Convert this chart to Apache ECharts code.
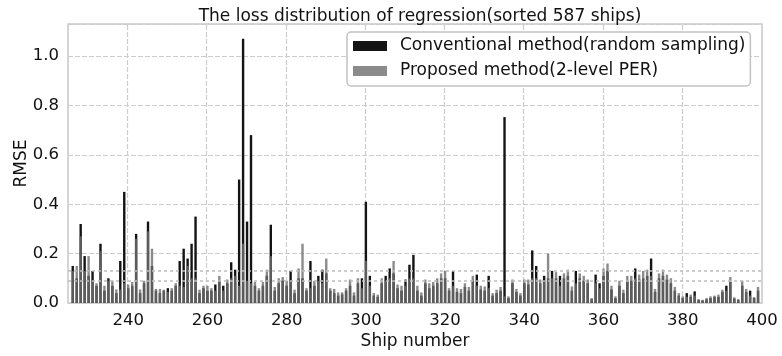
<!DOCTYPE html>
<html>
<head>
<meta charset="utf-8">
<script src="https://cdn.jsdelivr.net/npm/echarts@6/dist/echarts.min.js"></script>
<style>
  html, body { margin: 0; padding: 0; background: #fff; }
  #chart { width: 782px; height: 356px; }
</style>
</head>
<body>
<div id="chart"></div>
<script>
// Per-ship RMSE, ships 226..399 (sorted order)
const firstShip = 226;
const conventional = [
  0.15, 0.10, 0.32, 0.19, 0.11, 0.13, 0.07, 0.24, 0.05, 0.10,
  0.07, 0.04, 0.17, 0.45, 0.06, 0.07, 0.28, 0.04, 0.08, 0.33,
  0.15, 0.05, 0.04, 0.05, 0.06, 0.05, 0.07, 0.17, 0.22, 0.18,
  0.24, 0.35, 0.04, 0.06, 0.05, 0.05, 0.075, 0.09, 0.07, 0.08,
  0.165, 0.135, 0.50, 1.07, 0.33, 0.68, 0.07, 0.05, 0.07, 0.11,
  0.317, 0.05, 0.08, 0.09, 0.07, 0.13, 0.04, 0.10, 0.10, 0.05,
  0.17, 0.07, 0.11, 0.135, 0.12, 0.05, 0.04, 0.03, 0.035, 0.05,
  0.07, 0.03, 0.08, 0.10, 0.41, 0.11, 0.03, 0.025, 0.08, 0.11,
  0.14, 0.12, 0.06, 0.05, 0.095, 0.155, 0.195, 0.05, 0.03, 0.08,
  0.06, 0.07, 0.08, 0.10, 0.10, 0.05, 0.13, 0.045, 0.04, 0.065,
  0.05, 0.09, 0.115, 0.055, 0.05, 0.11, 0.03, 0.04, 0.05, 0.753,
  0.02, 0.08, 0.045, 0.03, 0.08, 0.075, 0.213, 0.15, 0.08, 0.11,
  0.10, 0.13, 0.10, 0.11, 0.10, 0.11, 0.05, 0.13, 0.10, 0.09,
  0.08, 0.015, 0.115, 0.08, 0.11, 0.13, 0.055, 0.02, 0.07, 0.04,
  0.09, 0.09, 0.14, 0.095, 0.10, 0.11, 0.18, 0.045, 0.10, 0.11,
  0.095, 0.08, 0.05, 0.03, 0.02, 0.04, 0.025, 0.047, 0.012, 0.01,
  0.015, 0.02, 0.025, 0.025, 0.045, 0.07, 0.085, 0.018, 0.012, 0.07,
  0.045, 0.05, 0.02, 0.05
];
const proposed = [
  0.13, 0.15, 0.27, 0.13, 0.19, 0.09, 0.08, 0.21, 0.07, 0.09,
  0.09, 0.055, 0.055, 0.08, 0.075, 0.085, 0.26, 0.055, 0.09, 0.29,
  0.22, 0.057, 0.057, 0.054, 0.045, 0.06, 0.08, 0.07, 0.065, 0.15,
  0.10, 0.10, 0.054, 0.07, 0.07, 0.06, 0.05, 0.11, 0.05, 0.095,
  0.10, 0.11, 0.07, 0.24, 0.09, 0.08, 0.085, 0.06, 0.085, 0.135,
  0.19, 0.065, 0.10, 0.105, 0.09, 0.09, 0.054, 0.14, 0.24, 0.06,
  0.06, 0.09, 0.09, 0.08, 0.18, 0.06, 0.057, 0.043, 0.043, 0.06,
  0.095, 0.043, 0.10, 0.06, 0.17, 0.07, 0.04, 0.034, 0.10, 0.09,
  0.10, 0.17, 0.075, 0.07, 0.07, 0.10, 0.10, 0.07, 0.043, 0.095,
  0.08, 0.085, 0.10, 0.12, 0.13, 0.06, 0.07, 0.06, 0.057, 0.08,
  0.065, 0.11, 0.07, 0.07, 0.067, 0.06, 0.04, 0.054, 0.065, 0.027,
  0.027, 0.095, 0.057, 0.04, 0.095, 0.095, 0.10, 0.10, 0.095, 0.09,
  0.20, 0.10, 0.125, 0.07, 0.12, 0.135, 0.067, 0.08, 0.12, 0.11,
  0.095, 0.02, 0.08, 0.06, 0.14, 0.16, 0.07, 0.027, 0.09, 0.054,
  0.11, 0.11, 0.10, 0.115, 0.13, 0.135, 0.11, 0.057, 0.12, 0.135,
  0.115, 0.10, 0.065, 0.04, 0.027, 0.025, 0.034, 0.03, 0.016, 0.013,
  0.02, 0.027, 0.03, 0.034, 0.054, 0.05, 0.105, 0.023, 0.016, 0.09,
  0.057, 0.03, 0.024, 0.065
];
// Mean RMSE of each method over all ships
const meanRMSE = [0.128, 0.092];
const xTicks = [240, 260, 280, 300, 320, 340, 360, 380, 400];
const xGrid = [240, 260, 280, 300, 320, 340, 360, 380];
const seriesNames = ['Conventional method(random sampling)', 'Proposed method(2-level PER)'];

const ships = conventional.map((_, i) => firstShip + i);
const font = 'DejaVu Sans';
const gridColor = '#cdcdcd';

const meanLine = (v) => ({
  symbol: ['none', 'none'],
  silent: true,
  animation: false,
  label: { show: false },
  lineStyle: { color: '#bdbdbd', type: [3, 3], width: 1.5 },
  data: [{ yAxis: v }]
});

const chart = echarts.init(document.getElementById('chart'), null, { renderer: 'canvas' });
chart.setOption({
  animation: false,
  backgroundColor: '#fff',
  title: {
    text: 'The loss distribution of regression(sorted 587 ships)',
    left: 415,
    textAlign: 'center',
    top: 3,
    textStyle: { fontFamily: font, fontSize: 17, fontWeight: 'normal', color: '#111' }
  },
  legend: {
    data: seriesNames,
    orient: 'vertical',
    left: 347,
    top: 32,
    z: 20,
    icon: 'rect',
    itemWidth: 34,
    itemHeight: 10,
    itemGap: 5,
    padding: [4, 5, 5, 6],
    borderColor: '#c2c2c2',
    borderWidth: 1.5,
    borderRadius: 4,
    backgroundColor: '#ffffff',
    textStyle: { fontFamily: font, fontSize: 17, color: '#111', lineHeight: 20, padding: [0, 0, 0, 8] }
  },
  grid: {
    left: 68, right: 20, top: 24, bottom: 53,
    show: true, borderColor: '#c8c8c8', borderWidth: 1.5, backgroundColor: 'transparent'
  },
  xAxis: {
    type: 'value',
    min: 224.8,
    max: 400,
    name: 'Ship number',
    nameLocation: 'middle',
    nameGap: 30,
    nameMoveOverlap: false,
    nameTextStyle: { fontFamily: font, fontSize: 17, color: '#111' },
    axisLine: { show: false },
    axisTick: { show: false },
    splitLine: { show: false },
    axisLabel: {
      customValues: xTicks,
      fontFamily: font, fontSize: 16.5, color: '#111', margin: 9
    }
  },
  yAxis: {
    type: 'value',
    min: 0,
    max: 1.13,
    interval: 0.2,
    name: 'RMSE',
    nameLocation: 'middle',
    nameGap: 38,
    nameMoveOverlap: false,
    nameTextStyle: { fontFamily: font, fontSize: 17, color: '#111' },
    axisLine: { show: false },
    axisTick: { show: false },
    splitLine: { show: true, lineStyle: { color: gridColor, type: [5, 2], width: 1.2 } },
    axisLabel: {
      formatter: (v) => v.toFixed(1),
      showMaxLabel: false,
      fontFamily: font, fontSize: 16.5, color: '#111', margin: 9
    }
  },
  series: [
    {
      name: 'xgrid',
      type: 'bar',
      data: [],
      z: 1,
      markLine: {
        z: 0,
        symbol: ['none', 'none'],
        silent: true,
        animation: false,
        label: { show: false },
        lineStyle: { color: gridColor, type: [5, 2], width: 1.2 },
        data: xGrid.map(v => ({ xAxis: v }))
      }
    },
    {
      name: seriesNames[0],
      type: 'bar',
      z: 2,
      barWidth: 2.4,
      barGap: '-100%',
      itemStyle: { color: '#141414' },
      data: ships.map((s, i) => [s, conventional[i]]),
      markLine: meanLine(meanRMSE[0])
    },
    {
      name: seriesNames[1],
      type: 'bar',
      z: 3,
      barWidth: 2.4,
      barGap: '-100%',
      itemStyle: { color: 'rgba(110,110,110,0.8)' },
      data: ships.map((s, i) => [s, proposed[i]]),
      markLine: meanLine(meanRMSE[1])
    }
  ]
});
</script>
</body>
</html>
